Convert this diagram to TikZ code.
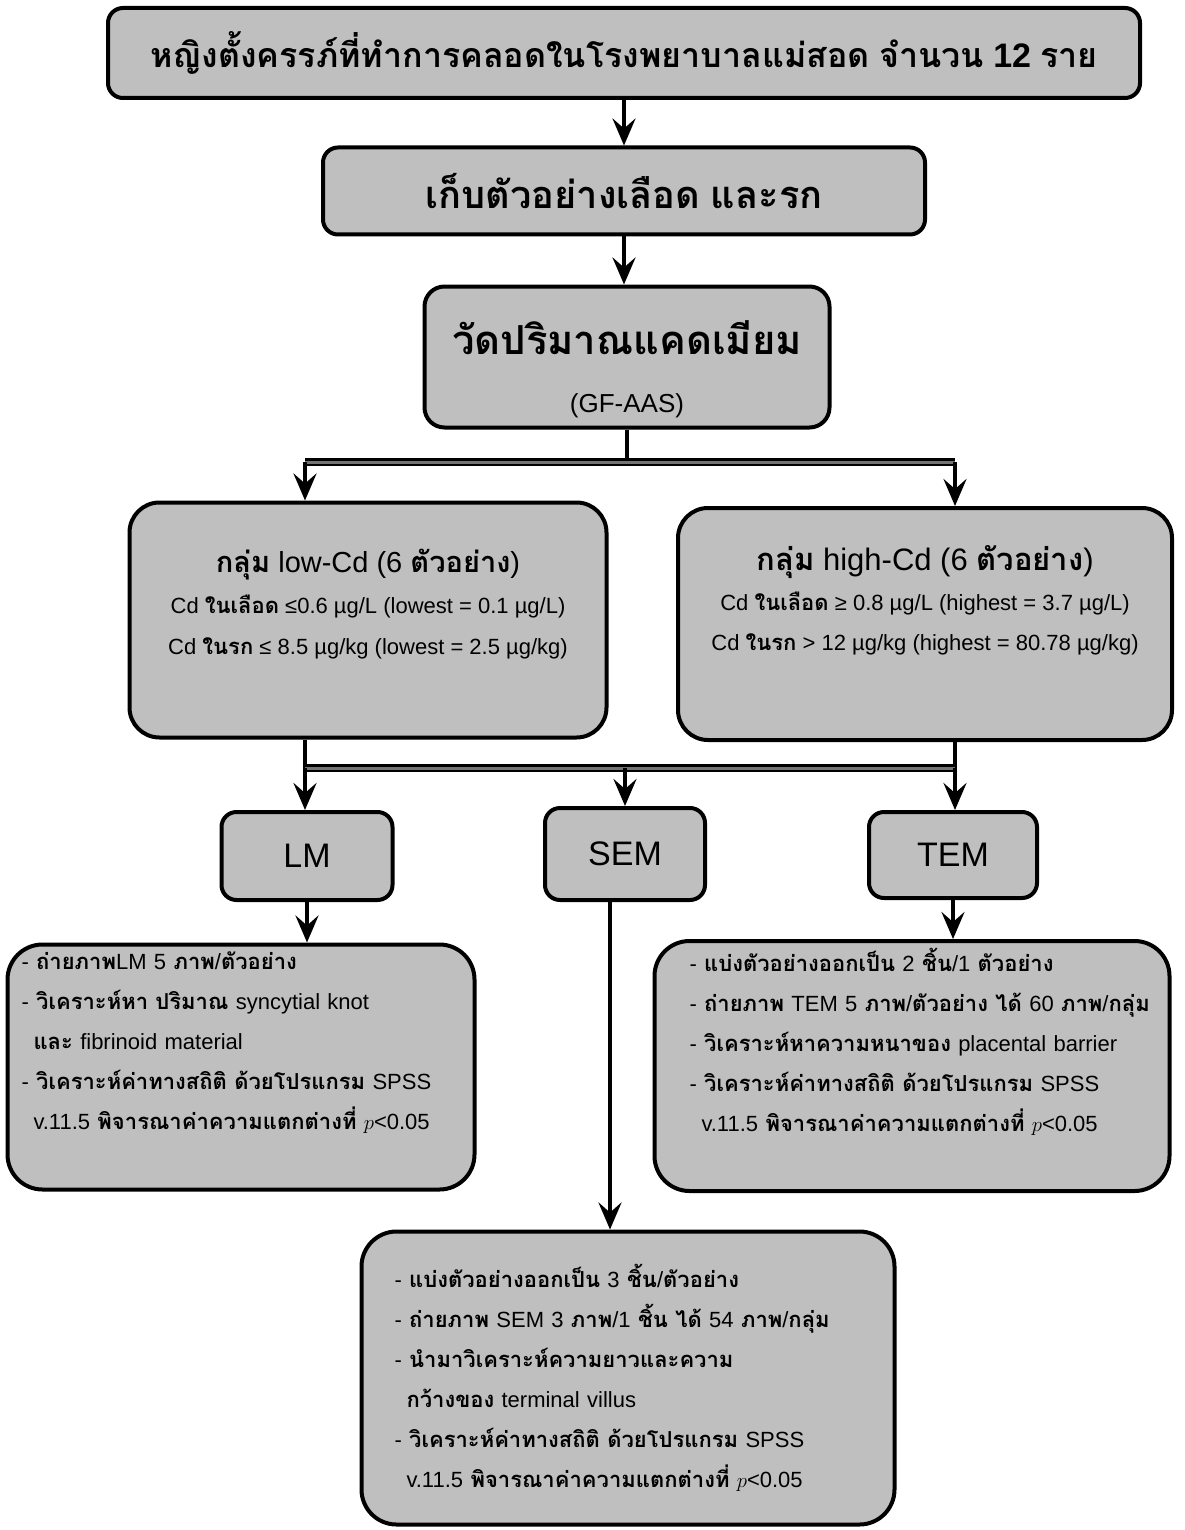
\documentclass[tikz,border=0pt]{standalone}
\usepackage{fontspec}
\setmainfont{Liberation Sans}
\newfontfamily\thaifam[Script=Thai]{Loma}
\usetikzlibrary{arrows.meta}

% Thai runs in Loma bold, everything else in Liberation Sans
\newcommand\thaifont{\thaifam\bfseries}
\newcommand\latinfont{\normalfont}
\XeTeXinterchartokenstate=1
\newXeTeXintercharclass\thaicls
\newcount\thaich
\thaich="0E00
\loop
  \XeTeXcharclass\thaich=\thaicls
  \advance\thaich by 1
\ifnum\thaich<"0E80 \repeat
\XeTeXinterchartoks 0 \thaicls = {\thaifont}
\XeTeXinterchartoks 4095 \thaicls = {\thaifont}
\XeTeXinterchartoks \thaicls 0 = {\latinfont}
\XeTeXinterchartoks \thaicls 4095 = {\latinfont}

\begin{document}
\begin{tikzpicture}[x=1pt,y=-1pt,
	box/.style={draw,line width=4pt,fill=black!25,rounded corners=15pt,inner sep=0pt},
	flow/.style={line width=4pt,-{Stealth[length=27pt,width=23pt,inset=10pt]}},
	link/.style={line width=4pt},
	bus/.style={line width=2.5pt,double=black!55,double distance=3pt}]
	\useasboundingbox (0,0) rectangle (1184,1530);

	\node[box,minimum width=1032pt,minimum height=90pt,font=\fontsize{34}{38}\selectfont] (top) at (624,53)
		{หญิงตั้งครรภ์ที่ทำการคลอดในโรงพยาบาลแม่สอด จำนวน \textbf{12} ราย};
	\node[box,minimum width=602pt,minimum height=87pt,font=\fontsize{38}{42}\selectfont] (collect) at (624,191)
		{เก็บตัวอย่างเลือด และรก};
	\node[box,rounded corners=20pt,minimum width=405pt,minimum height=141pt,align=center] (measure) at (627,357)
		{{\fontsize{40}{44}\selectfont\rule{0pt}{58pt}วัดปริมาณแคดเมียม}\\[38pt]{\fontsize{26}{30}\selectfont (GF-AAS)}};

	\node[box,rounded corners=30pt,minimum width=477pt,minimum height=235pt,align=center,font=\fontsize{22}{41}\selectfont] (lowgrp) at (368,620)
		{{\fontsize{29}{34}\selectfont กลุ่ม low-Cd (6 ตัวอย่าง)}\\
		 Cd ในเลือด ≤0.6 µg/L (lowest = 0.1 µg/L)\\
		 Cd ในรก ≤ 8.5 µg/kg (lowest = 2.5 µg/kg)\rule[-36pt]{0pt}{0pt}};
	\node[box,rounded corners=30pt,minimum width=494pt,minimum height=232pt,align=center,font=\fontsize{22}{40}\selectfont] (highgrp) at (925,624)
		{{\fontsize{31}{36}\selectfont กลุ่ม high-Cd (6 ตัวอย่าง)}\\
		 Cd ในเลือด ≥ 0.8 µg/L (highest = 3.7 µg/L)\\
		 Cd ในรก > 12 µg/kg (highest = 80.78 µg/kg)\rule[-52pt]{0pt}{0pt}};

	\node[box,minimum width=171pt,minimum height=88pt,font=\fontsize{34}{38}\selectfont] (lm) at (307,856) {LM};
	\node[box,minimum width=160pt,minimum height=92pt,font=\fontsize{34}{38}\selectfont] (sem) at (625,854) {SEM};
	\node[box,minimum width=168pt,minimum height=86pt,font=\fontsize{34}{38}\selectfont] (tem) at (953,855) {TEM};

	\node[box,rounded corners=35pt,minimum height=245pt,text width=439pt,inner xsep=14pt,align=left,font=\fontsize{22}{40}\selectfont] (lmdet) at (241,1067)
		{\mbox{- ถ่ายภาพLM 5 ภาพ/ตัวอย่าง}\\
		 \mbox{- วิเคราะห์หา ปริมาณ syncytial knot}\\
		 \mbox{\hspace*{12pt}และ fibrinoid material}\\
		 \mbox{- วิเคราะห์ค่าทางสถิติ ด้วยโปรแกรม SPSS}\\
		 \mbox{\hspace*{12pt}v.11.5 พิจารณาค่าความแตกต่างที่ $p$<0.05}\rule[-52pt]{0pt}{0pt}};
	\node[box,rounded corners=35pt,minimum height=250pt,text width=445pt,inner xsep=35pt,align=left,font=\fontsize{22}{40}\selectfont] (temdet) at (912,1066)
		{\mbox{- แบ่งตัวอย่างออกเป็น 2 ชิ้น/1 ตัวอย่าง}\\
		 \mbox{- ถ่ายภาพ TEM 5 ภาพ/ตัวอย่าง ได้ 60 ภาพ/กลุ่ม}\\
		 \mbox{- วิเคราะห์หาความหนาของ placental barrier}\\
		 \mbox{- วิเคราะห์ค่าทางสถิติ ด้วยโปรแกรม SPSS}\\
		 \mbox{\hspace*{12pt}v.11.5 พิจารณาค่าความแตกต่างที่ $p$<0.05}\rule[-52pt]{0pt}{0pt}};
	\node[box,rounded corners=35pt,minimum height=293pt,text width=467pt,inner xsep=33pt,align=left,font=\fontsize{22}{40}\selectfont] (semdet) at (628,1378)
		{\mbox{- แบ่งตัวอย่างออกเป็น 3 ชิ้น/ตัวอย่าง}\\
		 \mbox{- ถ่ายภาพ SEM 3 ภาพ/1 ชิ้น ได้ 54 ภาพ/กลุ่ม}\\
		 \mbox{- นำมาวิเคราะห์ความยาวและความ}\\
		 \mbox{\hspace*{12pt}กว้างของ terminal villus}\\
		 \mbox{- วิเคราะห์ค่าทางสถิติ ด้วยโปรแกรม SPSS}\\
		 \mbox{\hspace*{12pt}v.11.5 พิจารณาค่าความแตกต่างที่ $p$<0.05}};

	% bus ends
	\coordinate (busAl) at (305,462);
	\coordinate (busAr) at (955,462);
	\coordinate (busBl) at (305,768);
	\coordinate (busBr) at (955,768);

	\draw[flow] (top.south) -- (top.south |- collect.north);
	\draw[flow] (collect.south) -- (collect.south |- measure.north);

	\draw[link] (measure.south) -- (measure.south |- busAl);
	\draw[bus] (busAl) -- (busAr);
	\draw[flow] (busAl) -- (busAl |- lowgrp.north);
	\draw[flow] (busAr) -- (busAr |- highgrp.north);

	\draw[link] (busBl |- lowgrp.south) -- (busBl);
	\draw[link] (busBr |- highgrp.south) -- (busBr);
	\draw[bus] (busBl) -- (busBr);
	\draw[flow] (busBl) -- (busBl |- lm.north);
	\draw[flow] (sem.north |- busBl) -- (sem.north);
	\draw[flow] (busBr) -- (busBr |- tem.north);

	\draw[flow] (lm.south) -- (lm.south |- lmdet.north);
	\draw[flow] (tem.south) -- (tem.south |- temdet.north);
	\draw[flow] ([xshift=-15pt]sem.south) -- ([xshift=-15pt]sem.south |- semdet.north);
\end{tikzpicture}
\end{document}
